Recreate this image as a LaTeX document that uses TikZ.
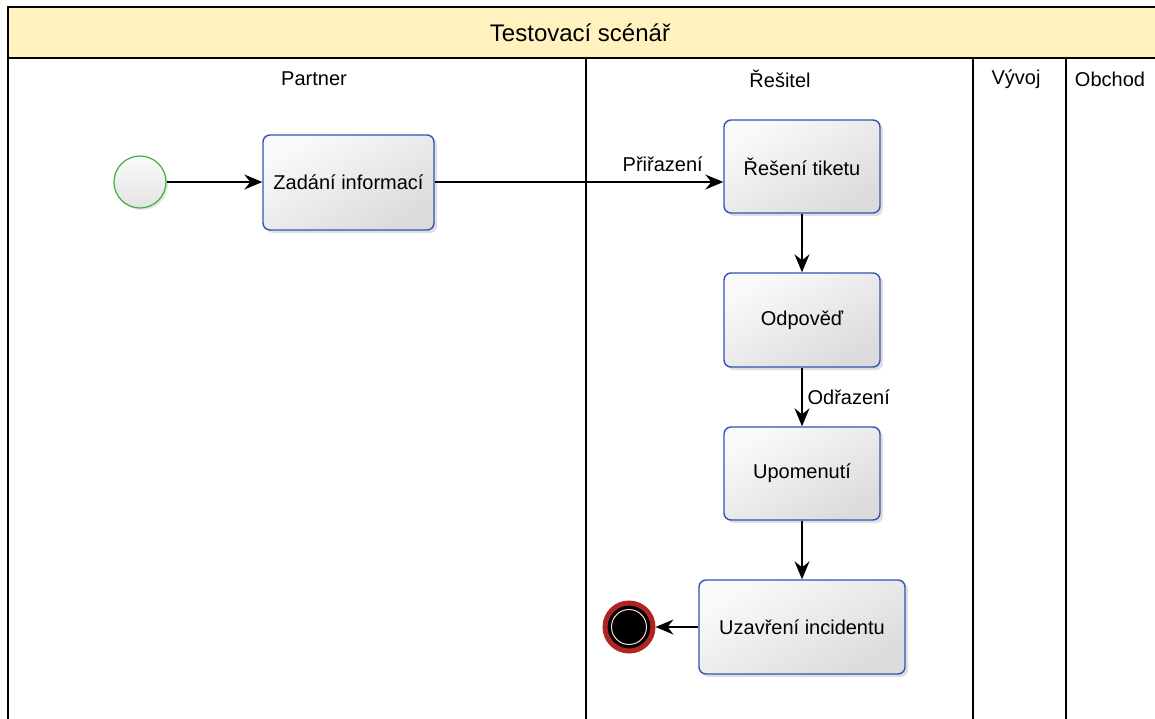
\documentclass[tikz,border=0pt]{standalone}
\usepackage{fontspec}
\setmainfont{Liberation Sans}
\usetikzlibrary{arrows.meta,shadows,positioning}
\definecolor{hdr}{HTML}{FFF2BF}
\definecolor{taskblue}{HTML}{2F55B0}
\definecolor{startgreen}{HTML}{3DB03D}
\definecolor{endred}{HTML}{B02424}
\tikzset{
  task/.style={draw=taskblue, line width=1.4pt, rounded corners=7pt,
    top color=gray!4, bottom color=gray!28, shading angle=30,
    inner sep=0pt, font=\fontsize{20}{22}\selectfont,
    drop shadow={opacity=0.25, shadow xshift=3pt, shadow yshift=-3pt}},
  lanetitle/.style={font=\fontsize{20}{22}\selectfont, inner sep=0pt},
  flow/.style={draw=black, line width=1.2pt, -{Stealth[length=18pt,width=15pt,inset=6pt]}},
  flowlabel/.style={font=\fontsize{20}{22}\selectfont, inner sep=1pt},
  frame/.style={draw=black, line width=1.3pt}
}
\begin{document}
\begin{tikzpicture}[x=1pt,y=-1pt]
\useasboundingbox (0,0) rectangle (1155,718);
\fill[white] (0,0) rectangle (1155,718);
% header
\fill[hdr] (8,7) rectangle (1160,58);
\draw[frame] (1160,7) -- (8,7) -- (8,720);
\draw[frame] (8,58) -- (1160,58);
\node[font=\fontsize{24}{26}\selectfont, inner sep=0pt] (title) at (580,33) {Testovací scénář};
% lane dividers
\draw[frame] (586,58) -- (586,720);
\draw[frame] (973,58) -- (973,720);
\draw[frame] (1066,58) -- (1066,720);
% lane titles
\node[lanetitle] (lp) at (314,79) {Partner};
\node[lanetitle] (lr) at (780,79) {Řešitel};
\node[lanetitle] (lv) at (1016,79) {Vývoj};
\node[lanetitle] (lo) at (1110,79) {Obchod};
% start event
\node[circle, draw=startgreen, line width=1.2pt, minimum size=52pt, inner sep=0pt,
  top color=gray!4, bottom color=gray!22,
  drop shadow={opacity=0.2, shadow xshift=2pt, shadow yshift=-2pt}] (start) at (140,182) {};
% tasks
\node[task, minimum width=171pt, minimum height=95pt] (zadani) at (348.5,182.5) {Zadání informací};
\node[task, minimum width=156pt, minimum height=93pt] (reseni) at (802,166.5) {Řešení tiketu};
\node[task, minimum width=156pt, minimum height=94pt] (odpoved) at (802,320) {Odpověď};
\node[task, minimum width=156pt, minimum height=93pt] (upom) at (802,473.5) {Upomenutí};
\node[task, minimum width=206pt, minimum height=94pt] (uzav) at (802,627) {Uzavření incidentu};
% end event
\node[circle, draw=endred, line width=5pt, fill=black, minimum size=48pt, inner sep=0pt,
  drop shadow={opacity=0.3, shadow xshift=2pt, shadow yshift=-2pt}] (end) at (629,627) {};
\draw[red!15!white, line width=1pt] (end.center) circle (17.5pt);
% flows
\draw[flow] (start.east) -- (zadani.west |- start.east);
\coordinate (rin) at (reseni.west |- 0,182);
\draw[flow] (zadani.east |- 0,182) -- (rin) node[flowlabel, pos=0.79, above=9pt] (lpr) {Přiřazení};
\draw[flow] (reseni) -- (odpoved);
\draw[flow] (odpoved) -- (upom) node[flowlabel, pos=0.5, right=4pt] (lod) {Odřazení};
\draw[flow] (upom) -- (uzav);
\draw[flow] (uzav) -- (end);
\end{tikzpicture}
\end{document}
